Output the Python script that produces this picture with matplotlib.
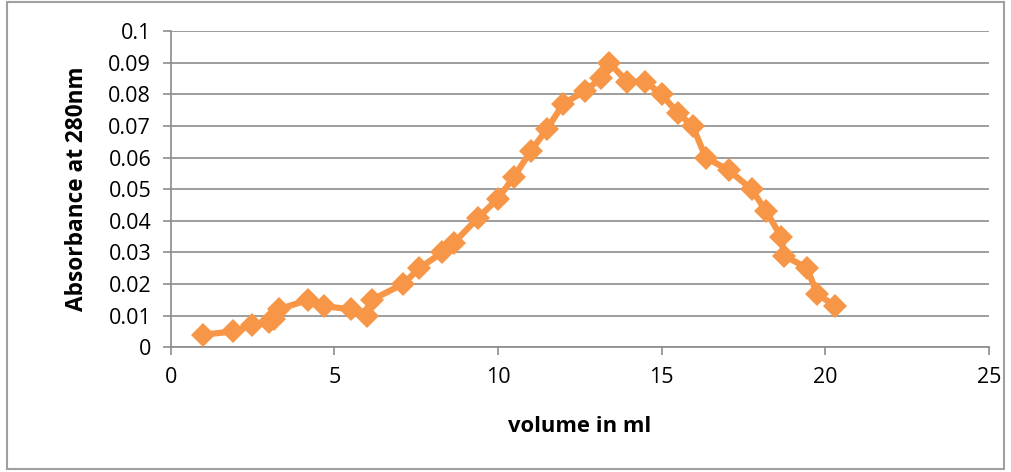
import matplotlib
matplotlib.use("Agg")
import matplotlib.pyplot as plt
from matplotlib.patches import Rectangle

# volume (ml) and absorbance readings
volume = [1.0, 1.9, 2.5, 3.0, 3.15, 3.3, 4.2, 4.7, 5.5, 6.0, 6.15, 7.1, 7.6, 8.3,
          8.65, 9.4, 10.0, 10.5, 11.0, 11.5, 12.0, 12.65, 13.15, 13.4, 13.95,
          14.5, 15.0, 15.5, 15.95, 16.35, 17.05, 17.75, 18.2, 18.65, 18.75,
          19.45, 19.75, 20.3]
absorbance = [0.004, 0.005, 0.007, 0.008, 0.009, 0.012, 0.015, 0.013, 0.012, 0.010,
              0.015, 0.020, 0.025, 0.030, 0.033, 0.041, 0.047, 0.054, 0.062, 0.069,
              0.077, 0.081, 0.085, 0.090, 0.084, 0.084, 0.080, 0.074, 0.070, 0.060,
              0.056, 0.050, 0.043, 0.035, 0.029, 0.025, 0.017, 0.013]

x_ticks = [0, 5, 10, 15, 20, 25]
y_ticks = [0, 0.01, 0.02, 0.03, 0.04, 0.05, 0.06, 0.07, 0.08, 0.09, 0.1]
y_labels = ["0", "0.01", "0.02", "0.03", "0.04", "0.05", "0.06", "0.07", "0.08", "0.09", "0.1"]

plt.rcParams['font.family'] = ['Open Sans', 'DejaVu Sans']
grey = "#8c8c8c"

fig = plt.figure(figsize=(10.11, 4.72), dpi=100)
# chart border
fig.patches.append(Rectangle((0.007, 0.006), 0.986, 0.99, transform=fig.transFigure,
                             fill=False, edgecolor="#a0a0a0", lw=1.5))
ax = fig.add_axes([0.1688, 0.2642, 0.8092, 0.6701])

ax.plot(volume, absorbance, color="#F79646", lw=4.5, marker="D", markersize=12,
        markeredgewidth=0, zorder=3)

ax.set_xlim(0, 25)
ax.set_ylim(0, 0.1)
ax.set_xticks(x_ticks)
ax.set_yticks(y_ticks)
ax.set_yticklabels(y_labels)
ax.tick_params(axis="both", labelsize=15.5, color=grey, length=6, width=1.2, pad=8)
ax.yaxis.grid(True, color=grey, lw=1.2)
ax.set_axisbelow(True)
for side in ("top", "right"):
    ax.spines[side].set_visible(False)
for side in ("left", "bottom"):
    ax.spines[side].set_color(grey)
    ax.spines[side].set_linewidth(1.2)

ax.set_xlabel("volume in ml", fontsize=15.8, fontweight="bold", labelpad=20)
ax.set_ylabel("Absorbance at 280nm", fontsize=16.3, fontweight="bold", labelpad=14)

fig.savefig("out.png", dpi=100)
